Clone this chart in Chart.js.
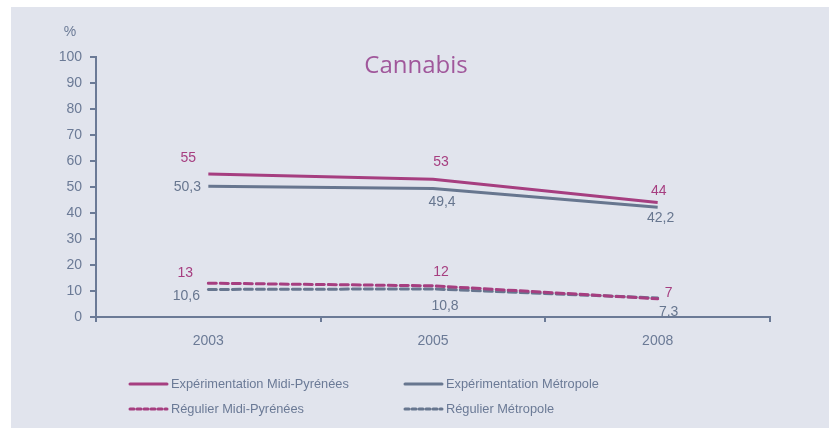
<!DOCTYPE html>
<html lang="fr">
<head>
<meta charset="utf-8">
<script src="https://cdn.jsdelivr.net/npm/chart.js@4.4.1/dist/chart.umd.min.js"></script>
<style>
  html, body { margin: 0; background: #fff; }
  canvas { display: block; }
</style>
</head>
<body>
<canvas id="chart" width="829" height="430"></canvas>
<script>
const years = ["2003", "2005", "2008"];
const experimentationMidiPyrenees = [55, 53, 44];
const experimentationMetropole = [50.3, 49.4, 42.2];
const regulierMidiPyrenees = [13, 12, 7];
const regulierMetropole = [10.6, 10.8, 7.3];

const MAGENTA = "#a63e80";
const SLATE = "#67768f";
const AXIS = "#6b7a96";
const FONT = "'Liberation Sans', Arial, sans-serif";

// label offsets from each point (dx, dy of the text centre)
const labelOffsets = [
  [[-20, -16], [8, -17], [1, -11]],
  [[-21, 1], [9, 14], [3, 11]],
  [[-23, -10], [8, -14], [11, -6]],
  [[-22, 7], [12, 17], [11, 14]],
];

const background = {
  id: "background",
  beforeDraw(chart) {
    const { ctx, width, height } = chart;
    ctx.save();
    ctx.fillStyle = "#fff";
    ctx.fillRect(0, 0, width, height);
    ctx.fillStyle = "#e1e4ed";
    ctx.fillRect(11, 7, width - 11, height - 9);
    ctx.restore();
  },
};

const decorations = {
  id: "decorations",
  afterDraw(chart) {
    const { ctx } = chart;
    ctx.save();

    // title inside the plot
    ctx.fillStyle = "#a0579b";
    ctx.font = "24px 'Open Sans', sans-serif";
    ctx.textAlign = "center";
    ctx.textBaseline = "middle";
    ctx.fillText("Cannabis", 416, 66);

    // unit
    ctx.fillStyle = AXIS;
    ctx.font = `14px ${FONT}`;
    ctx.fillText("%", 70, 32);

    // value labels
    chart.data.datasets.forEach((ds, i) => {
      const meta = chart.getDatasetMeta(i);
      ctx.fillStyle = ds.borderColor;
      ctx.font = `14px ${FONT}`;
      meta.data.forEach((pt, j) => {
        const [dx, dy] = labelOffsets[i][j];
        ctx.fillText(ds.data[j].toLocaleString("fr-FR"), pt.x + dx, pt.y + dy);
      });
    });

    // legend, two columns
    const cols = [130, 405];
    const rows = [384, 409];
    ctx.font = `12.8px ${FONT}`;
    ctx.textAlign = "left";
    chart.data.datasets.forEach((ds, i) => {
      const x = cols[i % 2];
      const y = rows[Math.floor(i / 2)];
      ctx.strokeStyle = ds.borderColor;
      ctx.lineWidth = 3;
      ctx.lineCap = "round";
      ctx.setLineDash(ds.borderDash && ds.borderDash.length ? [4, 3] : []);
      ctx.beginPath();
      ctx.moveTo(x, y);
      ctx.lineTo(x + 37, y);
      ctx.stroke();
      ctx.setLineDash([]);
      ctx.fillStyle = AXIS;
      ctx.fillText(ds.label, x + 41, y);
    });
    ctx.restore();
  },
};

const solid = (label, data, color) => ({
  label, data, borderColor: color, borderWidth: 3, pointRadius: 0, tension: 0,
});
const dashed = (label, data, color) => ({
  label, data, borderColor: color, borderWidth: 3, pointRadius: 0, tension: 0,
  borderDash: [8, 4], borderCapStyle: "round",
});

new Chart(document.getElementById("chart"), {
  type: "line",
  data: {
    labels: years,
    datasets: [
      solid("Expérimentation Midi-Pyrénées", experimentationMidiPyrenees, MAGENTA),
      solid("Expérimentation Métropole", experimentationMetropole, SLATE),
      dashed("Régulier Midi-Pyrénées", regulierMidiPyrenees, MAGENTA),
      dashed("Régulier Métropole", regulierMetropole, SLATE),
    ],
  },
  options: {
    responsive: false,
    animation: false,
    devicePixelRatio: 1,
    layout: { padding: { left: 0, top: 57, right: 59, bottom: 73 } },
    plugins: { legend: { display: false }, tooltip: { enabled: false } },
    scales: {
      x: {
        offset: true,
        grid: { offset: true, drawOnChartArea: false, drawTicks: true, tickLength: 5, color: AXIS, lineWidth: 2 },
        border: { display: true, color: AXIS, width: 2 },
        ticks: { color: AXIS, font: { family: FONT, size: 14 }, padding: 11 },
        afterFit: (scale) => { scale.height = 40; },
      },
      y: {
        min: 0,
        max: 100,
        grid: { drawOnChartArea: false, drawTicks: true, tickLength: 6, color: AXIS, lineWidth: 2 },
        border: { display: true, color: AXIS, width: 2 },
        ticks: { stepSize: 10, color: AXIS, font: { family: FONT, size: 14 }, padding: 8 },
        afterFit: (scale) => { scale.width = 96; },
      },
    },
  },
  plugins: [background, decorations],
});
</script>
</body>
</html>
